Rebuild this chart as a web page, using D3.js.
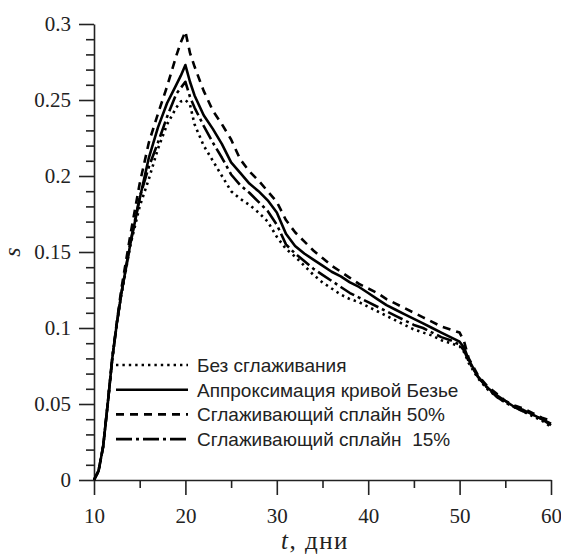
<!DOCTYPE html>
<html><head><meta charset="utf-8">
<script src="https://cdn.jsdelivr.net/npm/d3@7"></script>
<style>
html,body{margin:0;padding:0;background:#fff;}
svg{display:block;}
.serif{font-family:"Liberation Serif","Times New Roman",Tinos,serif;}
.sans{font-family:"Liberation Sans",Arial,Arimo,sans-serif;}
</style></head>
<body>
<svg id="chart" width="561" height="554"></svg>
<script>
// ---- data ----
const tDays = [10,10.5,11,11.5,12,12.5,13,14,15,16,17,18,19,19.5,20,20.5,
  21,22,23,24,25,26,27,28,29,30,31,32,33,34,35,36,37,38,39,40,41,42,43,44,45,46,47,48,49,50,50.5,
  51,52,53,54,55,56,57,58,59,60];
const sNoSmoothing = [0,0.006,0.022,0.05,0.08,0.103,0.122,0.155,0.18,0.198,0.218,0.234,0.245,0.249,0.25,0.247,
  0.234,0.22,0.21,0.2,0.19,0.185,0.181,0.176,0.17,0.16,0.152,0.147,0.141,0.135,0.13,0.126,0.122,0.119,0.117,0.114,
  0.111,0.108,0.105,0.102,0.099,0.097,0.095,0.092,0.09,0.088,0.084,
  0.077,0.067,0.06,0.055,0.051,0.048,0.045,0.042,0.039,0.035];
const sBezier = [0,0.006,0.022,0.05,0.08,0.103,0.123,0.156,0.185,0.212,0.232,0.248,0.26,0.266,0.273,0.262,
  0.253,0.24,0.231,0.221,0.209,0.202,0.195,0.19,0.184,0.176,0.162,0.154,0.149,0.145,0.141,0.137,0.134,0.13,0.127,0.123,
  0.119,0.115,0.112,0.109,0.106,0.103,0.1,0.097,0.094,0.091,0.087,
  0.079,0.068,0.061,0.056,0.052,0.048,0.046,0.043,0.04,0.037];
const sSpline50 = [0,0.006,0.022,0.05,0.08,0.104,0.126,0.162,0.195,0.222,0.241,0.259,0.279,0.288,0.295,0.281,
  0.272,0.256,0.243,0.234,0.224,0.211,0.203,0.197,0.19,0.183,0.171,0.163,0.157,0.151,0.146,0.141,0.137,0.133,0.129,0.126,
  0.123,0.119,0.116,0.113,0.11,0.107,0.104,0.101,0.099,0.097,0.091,
  0.08,0.069,0.062,0.057,0.052,0.049,0.047,0.044,0.041,0.039];
const sSpline15 = [0,0.006,0.022,0.05,0.08,0.103,0.123,0.157,0.186,0.206,0.222,0.239,0.254,0.258,0.262,0.252,
  0.245,0.233,0.222,0.212,0.201,0.194,0.189,0.183,0.177,0.168,0.155,0.149,0.144,0.139,0.135,0.131,0.127,0.123,0.12,0.117,
  0.114,0.111,0.108,0.105,0.102,0.1,0.097,0.094,0.092,0.089,0.085,
  0.078,0.068,0.061,0.055,0.051,0.048,0.045,0.043,0.04,0.036];
const seriesNames = ["Без сглаживания","Аппроксимация кривой Безье","Сглаживающий сплайн 50%","Сглаживающий сплайн\u00a0\u00a015%"];
const xMajorTicks = [10,20,30,40,50,60];
const xTickLabels = ["10","20","30","40","50","60"];
const xMinorTicks = [15,25,35,45,55];
const yMajorTicks = [0,0.05,0.1,0.15,0.2,0.25,0.3];
const yTickLabels = ["0","0.05","0.1","0.15","0.2","0.25","0.3"];
const yMinorTicks = [0.01,0.02,0.03,0.04,0.06,0.07,0.08,0.09,0.11,0.12,0.13,0.14,0.16,0.17,0.18,0.19,0.21,0.22,0.23,0.24,0.26,0.27,0.28,0.29];

// ---- layout ----
const svg = d3.select("#chart");
const mLeft = 94, mRight = 551, mTop = 24, mBottom = 480;
const x = d3.scaleLinear().domain([10,60]).range([mLeft,mRight]);
const y = d3.scaleLinear().domain([0,0.3]).range([mBottom,mTop]);

const styles = [
  {data:sNoSmoothing, dash:"2.4,4", w:2.6},
  {data:sBezier, dash:null, w:2.6},
  {data:sSpline50, dash:"8,6", w:2.6},
  {data:sSpline15, dash:"16,4,3,4", w:2.6}
];

// axes
function styleAxis(g){
  g.attr("font-family",null).attr("font-size",null);
  g.select(".domain").attr("stroke","#222").attr("stroke-width",1.6);
  g.selectAll(".tick line").attr("stroke","#222").attr("stroke-width",1.6);
  g.selectAll("text").attr("class","serif").style("font-size","21px").attr("fill","#222");
}
const gx = svg.append("g").attr("transform",`translate(0,${mBottom})`)
  .call(d3.axisBottom(x).tickValues(xMajorTicks).tickFormat((d,i)=>xTickLabels[i]).tickSize(15).tickSizeOuter(0).tickPadding(13));
styleAxis(gx);
const gxm = svg.append("g").attr("transform",`translate(0,${mBottom})`)
  .call(d3.axisBottom(x).tickValues(xMinorTicks).tickFormat("").tickSize(8).tickSizeOuter(0));
styleAxis(gxm); gxm.select(".domain").remove();

const gy = svg.append("g").attr("transform",`translate(${mLeft},0)`)
  .call(d3.axisLeft(y).tickValues(yMajorTicks).tickFormat((d,i)=>yTickLabels[i]).tickSize(15).tickSizeOuter(0).tickPadding(8));
styleAxis(gy);
const gym = svg.append("g").attr("transform",`translate(${mLeft},0)`)
  .call(d3.axisLeft(y).tickValues(yMinorTicks).tickFormat("").tickSize(8).tickSizeOuter(0));
styleAxis(gym); gym.select(".domain").remove();

// axis titles
svg.append("text").attr("class","serif").attr("transform","translate(20,252) rotate(-90)")
  .attr("text-anchor","middle").style("font-size","24px")
  .style("font-style","italic").attr("fill","#222").text("s");
const xt = svg.append("text").attr("class","serif").attr("x",281).attr("y",549).attr("text-anchor","start")
  .style("font-size","25px").style("letter-spacing","1.5px").attr("fill","#222");
xt.append("tspan").style("font-style","italic").text("t");
xt.append("tspan").text(", дни");

// lines
const line = d3.line().x((d,i)=>x(tDays[i])).y(d=>y(d)).curve(d3.curveLinear);
styles.forEach(s=>{
  svg.append("path").datum(s.data).attr("d",line)
    .attr("fill","none").attr("stroke","#000").attr("stroke-width",s.w)
    .attr("stroke-linejoin","round").attr("stroke-linecap","butt")
    .attr("stroke-dasharray",s.dash);
});

// legend
const legY0 = 365, legDy = 24.7;
styles.forEach((s,i)=>{
  const yy = legY0 + i*legDy;
  svg.append("line").attr("x1",116).attr("x2",188).attr("y1",yy).attr("y2",yy)
    .attr("stroke","#000").attr("stroke-width",s.w).attr("stroke-dasharray",s.dash);
  svg.append("text").attr("class","sans").attr("x",197).attr("y",yy).attr("dy","0.36em")
    .style("font-size","19px").attr("fill","#222").text(seriesNames[i]);
});
</script>
</body></html>
